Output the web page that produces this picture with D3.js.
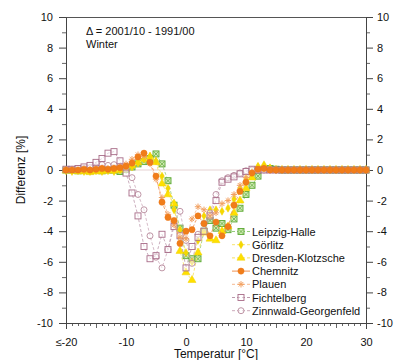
<!DOCTYPE html>
<html><head><meta charset="utf-8">
<script src="https://cdn.jsdelivr.net/npm/d3@7"></script>
<style>body{margin:0;background:#fff}svg{display:block}text{font-family:"Liberation Sans",Arial,sans-serif;fill:#111}</style>
</head><body>
<script>
const temps = [-20,-19,-18,-17,-16,-15,-14,-13,-12,-11,-10,-9,-8,-7,-6,-5,-4,-3,-2,-1,0,1,2,3,4,5,6,7,8,9,10,11,12,13,14,15,16,17,18,19,20,21,22,23,24,25,26,27,28,29,30];
const leipzig = [0,0,-0.05,0,-0.05,0,-0.05,0,0,-0.1,0.05,0.2,0.4,0.55,0.75,1.05,0.4,-0.7,-2.3,-3.8,-5.6,-5.8,-5.8,-4.0,-3.3,-3.8,-3.5,-3.9,-3.2,-2.5,-1.6,-1.0,-0.4,0.05,0.1,0.05,0,0,0,0,0,0,0,0,0,0,0,0,0,0,0];
const goerlitz = [-0.05,-0.1,-0.05,-0.1,-0.1,-0.05,-0.1,-0.05,-0.1,0,0.1,0.2,0.45,0.7,0.9,0.6,-0.4,-1.2,-2.6,-3.9,-5.4,-6.0,-4.6,-3.0,-2.6,-2.6,-2.7,-2.5,-1.9,-1.2,-0.6,-0.1,0.2,0.25,0.1,0,0,0,0,0,0,0,0,0,0,0,0,0,0,0,0];
const dresden = [-0.05,-0.05,-0.1,-0.1,-0.15,-0.1,-0.1,-0.05,-0.05,0,0.1,0.3,0.5,0.7,0.85,0.5,-0.9,-1.6,-2.2,-5.3,-6.7,-7.2,-5.4,-4.1,-4.5,-4.6,-4.0,-3.7,-2.8,-2.0,-1.2,-0.5,0.2,0.3,0.1,0,0,0,0,0,0,0,0,0,0,0,0,0,0,0,0];
const chemnitz = [0,0,0,0.05,0,0.05,0.1,0.05,0.1,0.15,0.25,0.45,0.85,1.1,0.5,-0.4,-2.1,-3.1,-3.3,-4.8,-4.0,-3.9,-3.0,-3.5,-4.3,-3.4,-4.3,-3.7,-2.3,-1.4,-0.8,-0.2,0.05,0.1,0,0,0,0,0,0,0,0,0,0,0,0,0,0,0,0,0];
const plauen = [0,0,0,0,0.05,0.05,0.1,0.1,0.15,0.2,0.4,0.7,1.0,0.9,0.4,-0.6,-1.8,-2.9,-3.6,-4.4,-4.5,-3.2,-2.4,-2.6,-3.0,-2.8,-2.2,-2.0,-1.6,-1.0,-0.5,-0.15,0.05,0.1,0,0,0,0,0,0,0,0,0,0,0,0,0,0,0,0,0];
const fichtelberg = [0.05,0.05,0.1,0.2,0.3,0.5,0.75,1.1,1.2,0.6,-0.2,-1.5,-3.0,-5.0,-5.8,-5.6,-4.2,-5.2,-3.7,-4.3,-6.4,-5.0,-4.4,-4.0,-3.0,-2.0,-0.8,-0.6,-0.45,-0.25,-0.1,0.05,0,0,0,0,0,0,0,0,0,0,0,0,0,0,0,0,0,0,0];
const zinnwald = [0,0.05,0.1,0.1,0.15,0.2,0.35,0.3,0.35,0.25,0.1,-0.5,-1.6,-2.6,-4.3,-5.7,-6.4,-5.2,-3.4,-2.7,-4.6,-6.1,-4.2,-3.5,-2.8,-1.6,-0.7,-0.5,-0.35,-0.2,-0.05,0,0,0,0,0,0,0,0,0,0,0,0,0,0,0,0,0,0,0,0];
const seriesNames = ["Leipzig-Halle","Görlitz","Dresden-Klotzsche","Chemnitz","Plauen","Fichtelberg","Zinnwald-Georgenfeld"];
const xTickValues = [-20,-10,0,10,20,30];
const yTickValues = [-10,-8,-6,-4,-2,0,2,4,6,8,10];
const annotation = ["\u0394 = 2001/10 - 1991/00","Winter"];

const series = [
  {name:seriesNames[0], values:leipzig, kind:"sqx", stroke:"#5aa832", fill:"#cfe9b4", line:"#96cc7c"},
  {name:seriesNames[1], values:goerlitz, kind:"dot", stroke:"#f2d200", fill:"#f5d800", line:"#f7e470"},
  {name:seriesNames[2], values:dresden, kind:"tri", stroke:"#f0d000", fill:"#ffe000", line:"#f5e060"},
  {name:seriesNames[3], values:chemnitz, kind:"circ", stroke:"#ec7414", fill:"#f07d1a", line:"#f09050"},
  {name:seriesNames[4], values:plauen, kind:"star", stroke:"#f2a060", fill:"none", line:"#f5b890"},
  {name:seriesNames[5], values:fichtelberg, kind:"sq", stroke:"#a86c88", fill:"#fff", line:"#bc98ac"},
  {name:seriesNames[6], values:zinnwald, kind:"ocirc", stroke:"#b88a9c", fill:"#fff", line:"#ccaaba"}
];

const W=395,H=360, L=66,R=366,T=17,B=323;
const svg=d3.select("body").append("svg").attr("width",W).attr("height",H);
const x=d3.scaleLinear().domain([-20,30]).range([L,R]);
const y=d3.scaleLinear().domain([-10,10]).range([B,T]);

svg.append("line").attr("x1",L).attr("x2",R).attr("y1",y(0)).attr("y2",y(0)).attr("stroke","#e6d2d2").attr("stroke-width",1);
svg.append("line").attr("x1",L).attr("x2",R).attr("y1",T+0.5).attr("y2",T+0.5).attr("stroke","#555");

function styleAxis(g){g.selectAll("path.domain").attr("stroke","#444");g.selectAll(".tick line").attr("stroke","#444");g.selectAll("text").attr("font-size","11px").attr("fill","#111");}
const fmt=d=>String(d);
const yMinor=[-9,-7,-5,-3,-1,1,3,5,7,9];
svg.append("g").attr("transform",`translate(${L},0)`).call(d3.axisLeft(y).tickValues(yMinor).tickSize(4).tickFormat("")).call(g=>{g.select(".domain").remove();g.selectAll("line").attr("stroke","#666");});
svg.append("g").attr("transform",`translate(${R},0)`).call(d3.axisRight(y).tickValues(yMinor).tickSize(4).tickFormat("")).call(g=>{g.select(".domain").remove();g.selectAll("line").attr("stroke","#666");});
svg.append("g").attr("transform",`translate(${L},0)`).call(d3.axisLeft(y).tickValues(yTickValues).tickSize(7).tickPadding(6).tickSizeOuter(0).tickFormat(fmt)).call(styleAxis);
svg.append("g").attr("transform",`translate(${R},0)`).call(d3.axisRight(y).tickValues(yTickValues).tickSize(7).tickPadding(4).tickSizeOuter(0).tickFormat(fmt)).call(styleAxis);
const xMinor=temps.filter(t=>t%5!==0);
const xMid=temps.filter(t=>t%5===0&&t%10!==0);
svg.append("g").attr("transform",`translate(0,${B})`).call(d3.axisBottom(x).tickValues(xMinor).tickSize(3).tickFormat("")).call(g=>{g.select(".domain").remove();g.selectAll("line").attr("stroke","#666");});
svg.append("g").attr("transform",`translate(0,${B})`).call(d3.axisBottom(x).tickValues(xMid).tickSize(5).tickFormat("")).call(g=>{g.select(".domain").remove();g.selectAll("line").attr("stroke","#666");});
svg.append("g").attr("transform",`translate(0,${B})`).call(d3.axisBottom(x).tickValues(xTickValues).tickSize(6).tickPadding(9).tickSizeOuter(0).tickFormat(d=>d===-20?"\u2264-20":String(d))).call(styleAxis);

svg.append("text").attr("x",(L+R)/2).attr("y",358).attr("text-anchor","middle").attr("font-size","12px").text("Temperatur [°C]");
svg.append("text").attr("transform",`translate(25,${(T+B)/2}) rotate(-90)`).attr("text-anchor","middle").attr("font-size","12px").text("Differenz [%]");
svg.append("text").attr("x",86).attr("y",35).attr("font-size","11px").text(annotation[0]);
svg.append("text").attr("x",86).attr("y",48).attr("font-size","11px").text(annotation[1]);

function marker(g,s,cx,cy){
  const k=s.kind;
  if(k==="sqx"){g.append("rect").attr("x",cx-3).attr("y",cy-3).attr("width",6).attr("height",6).attr("fill",s.fill).attr("stroke",s.stroke).attr("stroke-width",0.9);
    g.append("path").attr("d",`M${cx-2.5},${cy-2.5}L${cx+2.5},${cy+2.5}M${cx-2.5},${cy+2.5}L${cx+2.5},${cy-2.5}`).attr("stroke",s.stroke).attr("stroke-width",0.7);}
  else if(k==="sq"){g.append("rect").attr("x",cx-3).attr("y",cy-3).attr("width",6).attr("height",6).attr("fill",s.fill).attr("fill-opacity",0.5).attr("stroke",s.stroke).attr("stroke-width",0.9);}
  else if(k==="ocirc"){g.append("circle").attr("cx",cx).attr("cy",cy).attr("r",3).attr("fill",s.fill).attr("fill-opacity",0.5).attr("stroke",s.stroke).attr("stroke-width",0.9);}
  else if(k==="circ"){g.append("circle").attr("cx",cx).attr("cy",cy).attr("r",3.1).attr("fill",s.fill).attr("stroke",s.stroke).attr("stroke-width",0.5);}
  else if(k==="dot"){g.append("path").attr("transform",`translate(${cx},${cy})`).attr("d",d3.symbol(d3.symbolDiamond,18)()).attr("fill",s.fill).attr("stroke",s.stroke).attr("stroke-width",0.5);}
  else if(k==="tri"){g.append("path").attr("transform",`translate(${cx},${cy})`).attr("d",d3.symbol(d3.symbolTriangle,28)()).attr("fill",s.fill).attr("stroke",s.stroke).attr("stroke-width",0.5);}
  else if(k==="star"){const r=3.2;g.append("path").attr("d",`M${cx-r},${cy}L${cx+r},${cy}M${cx},${cy-r}L${cx},${cy+r}M${cx-r*0.7},${cy-r*0.7}L${cx+r*0.7},${cy+r*0.7}M${cx-r*0.7},${cy+r*0.7}L${cx+r*0.7},${cy-r*0.7}`).attr("stroke",s.stroke).attr("stroke-width",1);}
}

const lineGen=d3.line().x((d,i)=>x(temps[i])).y(d=>y(d));
const drawOrder=[0,2,1,6,5,4,3];
drawOrder.forEach(si=>{
  const s=series[si];
  const g=svg.append("g");
  g.append("path").attr("d",lineGen(s.values)).attr("fill","none").attr("stroke",s.line).attr("stroke-width",0.8).attr("stroke-dasharray","3,2");
  s.values.forEach((v,i)=>marker(g,s,x(temps[i]),y(v)));
});

const lg=svg.append("g");
series.forEach((s,i)=>{
  const cy=231.5+i*13.2;
  const g=lg.append("g");
  g.append("line").attr("x1",232).attr("x2",250).attr("y1",cy).attr("y2",cy).attr("stroke",s.line).attr("stroke-width",1).attr("stroke-dasharray",s.kind==="circ"?null:"3,2");
  marker(g,s,241,cy);
  g.append("text").attr("x",252).attr("y",cy+4).attr("font-size","11px").text(s.name);
});
</script>
</body></html>
